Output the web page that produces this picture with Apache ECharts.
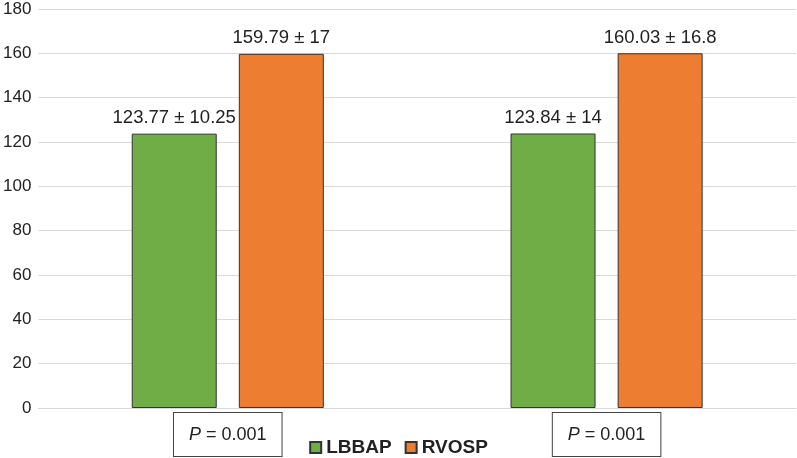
<!DOCTYPE html>
<html>
<head>
<meta charset="utf-8">
<script src="https://cdn.jsdelivr.net/npm/echarts@6/dist/echarts.min.js"></script>
<style>
html,body{margin:0;padding:0;background:#fff;}
#c{width:797px;height:458px;}
</style>
</head>
<body>
<div id="c"></div>
<script>
const categories = ['P = 0.001', 'P = 0.001'];
const lbbapValues = [123.77, 123.84];
const lbbapSD = [10.25, 14];
const rvospValues = [159.79, 160.03];
const rvospSD = [17, 16.8];
const yTicks = [0, 20, 40, 60, 80, 100, 120, 140, 160, 180];

const FONT = '"Liberation Sans", Arial, Helvetica, sans-serif';
const chart = echarts.init(document.getElementById('c'), null, {renderer: 'canvas'});
const lbl = (sd) => ({
  show: true, position: 'top', distance: 6,
  color: '#222', fontSize: 18.5, fontFamily: FONT,
  formatter: p => p.value + ' ± ' + sd[p.dataIndex]
});
chart.setOption({
  animation: false,
  backgroundColor: '#fff',
  grid: {left: 37, right: 1, top: 9, bottom: 50, containLabel: false},
  legend: {
    data: ['LBBAP', 'RVOSP'],
    bottom: -4, left: 'center',
    itemWidth: 11, itemHeight: 11, itemGap: 13,
    icon: 'rect',
    textStyle: {fontSize: 19, fontWeight: 'bold', color: '#222', fontFamily: FONT}
  },
  xAxis: {
    type: 'category',
    data: categories,
    axisLine: {show: true, lineStyle: {color: '#d9d9d9', width: 1}},
    axisTick: {show: false},
    axisLabel: {
      margin: 5,
      fontSize: 18, fontFamily: FONT, color: '#222',
      backgroundColor: '#fff',
      borderColor: '#444', borderWidth: 1,
      padding: [13, 15, 12, 15],
      formatter: v => '{i|P}' + v.slice(1),
      rich: {i: {fontStyle: 'italic', fontSize: 18, fontFamily: FONT, color: '#222'}}
    }
  },
  yAxis: {
    type: 'value',
    min: 0, max: 180, interval: 20,
    axisLine: {show: false},
    axisTick: {show: false},
    axisLabel: {
      margin: 7, fontSize: 17, fontFamily: FONT, color: '#222',
      formatter: v => yTicks.includes(v) ? String(v) : ''
    },
    splitLine: {lineStyle: {color: '#d9d9d9', width: 1}}
  },
  series: [
    {
      name: 'LBBAP', type: 'bar', data: lbbapValues,
      barWidth: 85, barGap: '26%',
      itemStyle: {color: '#70AD47', borderColor: '#333', borderWidth: 1},
      label: lbl(lbbapSD)
    },
    {
      name: 'RVOSP', type: 'bar', data: rvospValues,
      barWidth: 85,
      itemStyle: {color: '#ED7D31', borderColor: '#333', borderWidth: 1},
      label: lbl(rvospSD)
    }
  ]
});
</script>
</body>
</html>
